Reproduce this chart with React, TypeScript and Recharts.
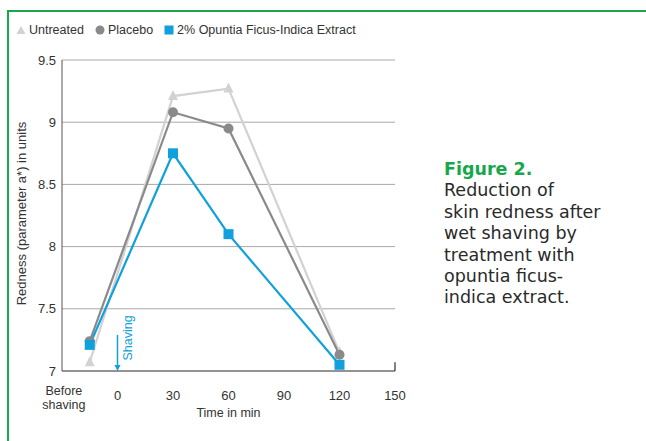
import { CartesianGrid, Line, LineChart, ReferenceLine, XAxis, YAxis } from "recharts";

const times = [-15, 30, 60, 120];
const untreated = [7.07, 9.21, 9.27, 7.15];
const placebo = [7.24, 9.08, 8.95, 7.13];
const extract = [7.21, 8.75, 8.1, 7.05];

const xTicks = [-29, 0, 30, 60, 90, 120, 150];
const xTickLabels = ["Before|shaving", "0", "30", "60", "90", "120", "150"];
const yTicks = [7, 7.5, 8, 8.5, 9, 9.5];

const captionTitle = "Figure 2.";
const captionLines = [
  "Reduction of",
  "skin redness after",
  "wet shaving by",
  "treatment with",
  "opuntia ficus-",
  "indica extract.",
];

const data = times.map((t, i) => ({
  t,
  untreated: untreated[i],
  placebo: placebo[i],
  extract: extract[i],
}));

const FONT = '"Liberation Sans", Arial, sans-serif';
const GREEN = "#17a84b";
const C_UNT = "#d2d2d2";
const C_PLA = "#8a8a8a";
const C_EXT = "#10a0dc";

const Triangle = (props: any) => {
  const { cx, cy } = props;
  if (cx == null || cy == null) return null;
  return <polygon points={`${cx},${cy - 6} ${cx - 5},${cy + 4} ${cx + 5},${cy + 4}`} fill={C_UNT} />;
};
const Dot = (props: any) => {
  const { cx, cy } = props;
  if (cx == null || cy == null) return null;
  return <circle cx={cx} cy={cy} r={5} fill={C_PLA} />;
};
const Square = (props: any) => {
  const { cx, cy } = props;
  if (cx == null || cy == null) return null;
  return <rect x={cx - 5} y={cy - 5} width={10} height={10} fill={C_EXT} />;
};

const TimeTick = (props: any) => {
  const { x, y, payload } = props;
  const idx = xTicks.indexOf(payload.value);
  const parts = (xTickLabels[idx] ?? String(payload.value)).split("|");
  if (parts.length > 1) {
    return (
      <g>
        {parts.map((p, i) => (
          <text
            key={i}
            x={x}
            y={y + 24 + i * 14}
            textAnchor="middle"
            fontSize={12.5}
            fill="#333"
            fontFamily={FONT}
          >
            {p}
          </text>
        ))}
      </g>
    );
  }
  return (
    <text x={x} y={y + 29} textAnchor="middle" fontSize={13} fill="#333" fontFamily={FONT}>
      {parts[0]}
    </text>
  );
};

const ShavingArrow = (props: any) => {
  const { x1, y1, x2, y2 } = props;
  if (x1 == null) return null;
  const top = Math.min(y1, y2);
  const bot = Math.max(y1, y2);
  const ty = bot - 33;
  return (
    <g>
      <line x1={x1} y1={top} x2={x1} y2={bot - 4} stroke={C_EXT} strokeWidth={1.5} />
      <polygon points={`${x1 - 3},${bot - 6} ${x1 + 3},${bot - 6} ${x1},${bot}`} fill={C_EXT} />
      <text
        x={x1 + 11}
        y={ty}
        transform={`rotate(-90 ${x1 + 11} ${ty})`}
        textAnchor="middle"
        dominantBaseline="middle"
        fontSize={12.5}
        fill={C_EXT}
        fontFamily={FONT}
      >
        Shaving
      </text>
    </g>
  );
};

const LegendItem = ({ shape, label }: { shape: "tri" | "dot" | "sq"; label: string }) => (
  <span style={{ display: "inline-flex", alignItems: "center", marginRight: 11 }}>
    <svg width={10} height={10} style={{ marginRight: 3 }}>
      {shape === "tri" && <polygon points="5,1 0.5,9 9.5,9" fill={C_UNT} />}
      {shape === "dot" && <circle cx={5} cy={5} r={4.5} fill={C_PLA} />}
      {shape === "sq" && <rect x={0.5} y={0.5} width={9} height={9} fill={C_EXT} />}
    </svg>
    {label}
  </span>
);

export default function App() {
  return (
    <div
      style={{
        position: "absolute",
        left: 0,
        top: 0,
        width: 646,
        height: 441,
        background: "#fff",
        overflow: "hidden",
        fontFamily: FONT,
      }}
    >
      <div style={{ position: "absolute", left: 7, top: 10, width: 639, height: 2, background: GREEN }} />
      <div style={{ position: "absolute", left: 7, top: 10, width: 2, height: 431, background: GREEN }} />

      <div
        style={{
          position: "absolute",
          left: 16,
          top: 23,
          fontSize: 12.5,
          color: "#333",
          display: "flex",
          alignItems: "center",
          whiteSpace: "nowrap",
        }}
      >
        <LegendItem shape="tri" label="Untreated" />
        <LegendItem shape="dot" label="Placebo" />
        <LegendItem shape="sq" label="2% Opuntia Ficus-Indica Extract" />
      </div>

      <div style={{ position: "absolute", left: 0, top: 0 }}>
        <LineChart width={646} height={441} data={data} margin={{ top: 60, right: 251, bottom: 0, left: 0 }}>
          <CartesianGrid horizontal vertical={false} stroke="#a8a8a8" strokeWidth={1} />
          <XAxis
            dataKey="t"
            type="number"
            domain={[-30, 150]}
            ticks={xTicks}
            height={70}
            stroke="#555"
            tickLine={false}
            tickSize={0}
            tickMargin={0}
            tick={<TimeTick />}
            interval={0}
            label={{
              content: (p: any) => {
                const vb = p.viewBox || {};
                return (
                  <text
                    x={vb.x + vb.width / 2}
                    y={vb.y + 46}
                    textAnchor="middle"
                    fontSize={12.5}
                    fill="#333"
                    fontFamily={FONT}
                  >
                    Time in min
                  </text>
                );
              },
            }}
          />
          <YAxis
            type="number"
            domain={[7, 9.5]}
            ticks={yTicks}
            width={62}
            stroke="#555"
            tickLine={false}
            tickSize={0}
            tickMargin={6}
            tick={{ fontSize: 13, fill: "#333", fontFamily: FONT }}
            label={{
              content: (p: any) => {
                const vb = p.viewBox || {};
                const cx = 23;
                const cy = vb.y + vb.height / 2 - 2;
                return (
                  <text
                    x={cx}
                    y={cy}
                    transform={`rotate(-90 ${cx} ${cy})`}
                    textAnchor="middle"
                    dominantBaseline="middle"
                    fontSize={13}
                    fill="#333"
                    fontFamily={FONT}
                  >
                    Redness (parameter a*) in units
                  </text>
                );
              },
            }}
          />
          <ReferenceLine
            segment={[
              { x: 150, y: 7 },
              { x: 150, y: 7.07 },
            ]}
            stroke="#555"
            strokeWidth={1.5}
          />
          <ReferenceLine
            segment={[
              { x: 0, y: 7.29 },
              { x: 0, y: 7 },
            ]}
            shape={<ShavingArrow />}
          />
          <Line
            dataKey="untreated"
            stroke={C_UNT}
            strokeWidth={2.2}
            dot={<Triangle />}
            activeDot={false}
            isAnimationActive={false}
          />
          <Line
            dataKey="placebo"
            stroke={C_PLA}
            strokeWidth={2.2}
            dot={<Dot />}
            activeDot={false}
            isAnimationActive={false}
          />
          <Line
            dataKey="extract"
            stroke={C_EXT}
            strokeWidth={2.2}
            dot={<Square />}
            activeDot={false}
            isAnimationActive={false}
          />
        </LineChart>
      </div>

      <div
        style={{
          position: "absolute",
          left: 444,
          top: 159,
          fontFamily: '"DejaVu Sans", sans-serif',
          fontSize: 17.5,
          lineHeight: "21.4px",
          color: "#2a2a2a",
          whiteSpace: "nowrap",
        }}
      >
        <div style={{ color: GREEN, fontWeight: "bold" }}>{captionTitle}</div>
        {captionLines.map((l) => (
          <div key={l}>{l}</div>
        ))}
      </div>
    </div>
  );
}
